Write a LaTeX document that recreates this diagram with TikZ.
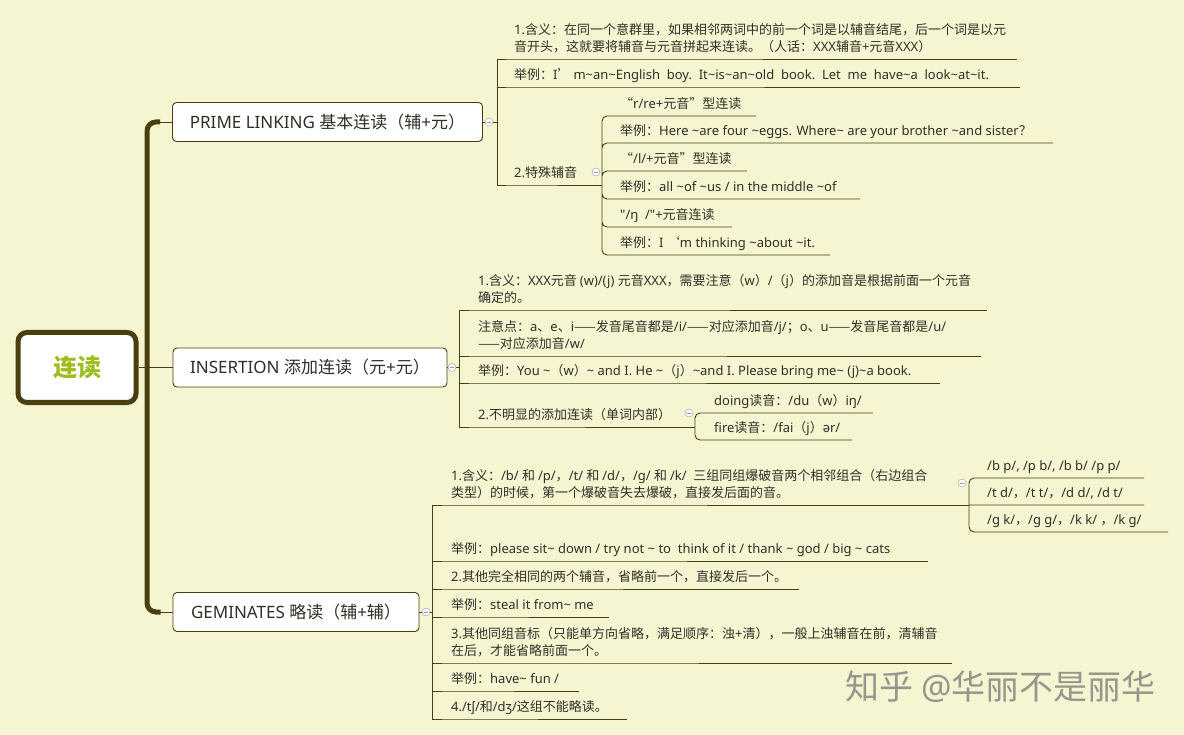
\documentclass[tikz,border=0pt]{standalone}
\usepackage{fontspec}
\setmainfont{Noto Sans}[Ligatures=TeXOff]
\newfontfamily\latinfont{Noto Sans}[Ligatures=TeXOff]
\newfontfamily\cjkfont{Noto Sans CJK SC}[Ligatures=TeXOff]
\usetikzlibrary{positioning}

% CJK characters switch to the CJK face, everything else stays in Noto Sans
\XeTeXinterchartokenstate=1
\newXeTeXintercharclass\cjkclass
\makeatletter
\count@="2E80
\loop
	\XeTeXcharclass\count@=\cjkclass
	\advance\count@ by 1
\ifnum\count@<"A000 \repeat
\count@="FF00
\loop
	\XeTeXcharclass\count@=\cjkclass
	\advance\count@ by 1
\ifnum\count@<"FFF0 \repeat
\makeatother
\XeTeXcharclass"2014=\cjkclass
\XeTeXcharclass"2018=\cjkclass
\XeTeXcharclass"2019=\cjkclass
\XeTeXcharclass"201C=\cjkclass
\XeTeXcharclass"201D=\cjkclass
\XeTeXinterchartoks 0 \cjkclass = {\cjkfont}
\XeTeXinterchartoks 4095 \cjkclass = {\cjkfont}
\XeTeXinterchartoks \cjkclass 0 = {\latinfont}
\XeTeXinterchartoks 4095 0 = {\latinfont}

\definecolor{paper}{RGB}{245,245,210}
\definecolor{wire}{RGB}{74,62,14}
\definecolor{ink}{RGB}{48,48,40}
\definecolor{rootgreen}{RGB}{157,190,28}
\definecolor{foldgray}{RGB}{150,150,168}
\definecolor{markgray}{RGB}{150,150,140}

\newcommand{\tld}{\textasciitilde}

\begin{document}
\begin{tikzpicture}[
	x=1pt, y=-1pt,
	root/.style={draw=wire, line width=5pt, rounded corners=9pt, fill=white,
		minimum width=118pt, minimum height=70pt, text=rootgreen,
		font=\fontsize{24}{28}\selectfont\bfseries},
	topic/.style={draw=wire, line width=0.9pt, rounded corners=4pt, fill=white,
		minimum height=39pt, text=ink, font=\fontsize{17}{20}\selectfont},
	leaf/.style={anchor=south west, inner xsep=0pt, inner ysep=4.5pt, text depth=3pt,
		align=left, text=ink, font=\fontsize{13}{17}\selectfont},
	trunk/.style={draw=wire, line width=5pt, rounded corners=9pt},
	wire1/.style={draw=wire, line width=0.9pt},
	wire2/.style={draw=wire, line width=0.9pt, rounded corners=5pt},
	fold/.style={circle, draw=foldgray, fill=white, inner sep=0pt, minimum size=8pt,
		path picture={\draw[foldgray, line width=0.8pt]
			([xshift=-2pt]path picture bounding box.center) -- ([xshift=2pt]path picture bounding box.center);}},
	stamp/.style={text=markgray, font=\fontsize{34}{38}\selectfont}
]
\fill[paper] (0,0) rectangle (1184,735);
\useasboundingbox (0,0) rectangle (1184,735);

\node[root] (root) at (77,367.5) {连读};
\node[topic, minimum width=310pt] (prime) at (327.5,122) {PRIME LINKING 基本连读（辅+元）};
\node[topic, minimum width=274pt] (ins) at (310,367.5) {INSERTION 添加连读（元+元）};
\node[topic, minimum width=246pt] (gem) at (296,612) {GEMINATES 略读（辅+辅）};

\coordinate[right=14pt of prime.east] (hP);
\coordinate[right=12pt of ins.east] (hI);
\coordinate[right=13pt of gem.east] (hG);
\coordinate (hub) at (147,367.5);

% PRIME LINKING
\node[leaf] (p1) at (514,59) {1.含义：在同一个意群里，如果相邻两词中的前一个词是以辅音结尾，后一个词是以元\\音开头，这就要将辅音与元音拼起来连读。（人话：XXX辅音+元音XXX）};
\node[leaf] (p2) at (514,87) {举例：I’ m\tld an\tld English\ \ boy.\ \ It\tld is\tld an\tld old\ \ book.\ \ Let\ \ me\ \ have\tld a\ \ look\tld at\tld it.};
\node[leaf] (p3) at (514,185) {2.特殊辅音};
\coordinate (hPs) at (602,185);
\node[leaf] (q1) at (620,116) {“r/re+元音”型连读};
\node[leaf] (q2) at (620,143) {举例：Here \tld are four \tld eggs. Where\tld{} are your brother \tld and sister？};
\node[leaf] (q3) at (620,171) {“/l/+元音”型连读};
\node[leaf] (q4) at (620,199) {举例：all \tld of \tld us / in the middle \tld of};
\node[leaf] (q5) at (620,227) {"/ŋ\ \ /"+元音连读};
\node[leaf] (q6) at (620,255) {举例：I ‘m thinking \tld about \tld it.};

% INSERTION
\node[leaf] (i1) at (478,310) {1.含义：XXX元音 (w)/(j) 元音XXX，需要注意（w）/（j）的添加音是根据前面一个元音\\确定的。};
\node[leaf] (i2) at (478,356) {注意点：a、e、i——发音尾音都是/i/——对应添加音/j/；o、u——发音尾音都是/u/\\——对应添加音/w/};
\node[leaf] (i3) at (478,383) {举例：You \tld（w）\tld{} and I. He \tld（j）\tld and I. Please bring me\tld{} (j)\tld a book.};
\node[leaf] (i4) at (478,427) {2.不明显的添加连读（单词内部）};
\coordinate (hId) at (695,427);
\node[leaf] (d1) at (714,413) {doing读音：/du（w）iŋ/};
\node[leaf] (d2) at (714,440) {fire读音：/fai（j）ər/};

% GEMINATES
\node[leaf] (g1) at (451,505) {1.含义：/b/ 和 /p/，/t/ 和 /d/，/g/ 和 /k/\ \ 三组同组爆破音两个相邻组合（右边组合\\类型）的时候，第一个爆破音失去爆破，直接发后面的音。};
\coordinate (hGb) at (969,505);
\node[leaf] (b1) at (987,478) {/b p/, /p b/, /b b/ /p p/};
\node[leaf] (b2) at (987,505) {/t d/，/t t/，/d d/, /d t/};
\node[leaf] (b3) at (987,532) {/g k/，/g g/，/k k/ ，/k g/};
\node[leaf] (g2) at (451,561) {举例：please sit\tld{} down / try not \tld{} to\ \ think of it / thank \tld{} god / big \tld{} cats};
\node[leaf] (g3) at (451,589) {2.其他完全相同的两个辅音，省略前一个，直接发后一个。};
\node[leaf] (g4) at (451,617) {举例：steal it from\tld{} me};
\node[leaf] (g5) at (451,663) {3.其他同组音标（只能单方向省略，满足顺序：浊+清），一般上浊辅音在前，清辅音\\在后，才能省略前面一个。};
\node[leaf] (g6) at (451,691) {举例：have\tld{} fun /};
\node[leaf] (g7) at (451,719) {4./tʃ/和/dʒ/这组不能略读。};

\draw[trunk] ([xshift=-12pt]prime.west) -| (hub) |- ([xshift=-12pt]gem.west);
\draw[wire1] (root) -- (ins)
	([xshift=-14pt]prime.west) -- (prime)
	([xshift=-14pt]gem.west) -- (gem)
	(prime) -- (hP) (ins) -- (hI) (gem) -- (hG);

\draw[wire1] (hP) |- (p1.south west) -- ++(503,0)
	(hP) |- (p2.south west) -- ++(506,0)
	(hP) |- (p3.south west) -- (hPs);
\draw[wire2] (hPs) |- (q1.south west) -- ++(136,0)
	(hPs) |- (q2.south west) -- ++(433,0)
	(hPs) |- (q3.south west) -- ++(127,0)
	(hPs) |- (q4.south west) -- ++(240,0)
	(hPs) |- (q5.south west) -- ++(112,0)
	(hPs) |- (q6.south west) -- ++(210,0);

\draw[wire1] (hI) |- (i1.south west) -- ++(509,0)
	(hI) |- (i2.south west) -- ++(503,0)
	(hI) |- (i3.south west) -- ++(462,0)
	(hI) |- (i4.south west) -- (hId);
\draw[wire2] (hId) |- (d1.south west) -- ++(159,0)
	(hId) |- (d2.south west) -- ++(138,0);

\draw[wire1] (hG) |- (g1.south west) -- (hGb)
	(hG) |- (g2.south west) -- ++(477,0)
	(hG) |- (g3.south west) -- ++(348,0)
	(hG) |- (g4.south west) -- ++(158,0)
	(hG) |- (g5.south west) -- ++(501,0)
	(hG) |- (g6.south west) -- ++(128,0)
	(hG) |- (g7.south west) -- ++(176,0);
\draw[wire2] (hGb) |- (b1.south west) -- ++(157,0)
	(hGb) -- (b2.south west) -- ++(157,0)
	(hGb) |- (b3.south west) -- ++(181,0);

\node[fold] (fP) at (489,122) {};
\node[fold] (fI) at (452,367.5) {};
\node[fold] (fG) at (426,612) {};
\node[fold] (fPs) at (596,172) {};
\node[fold] (fId) at (689,413) {};
\node[fold] (fGb) at (962,483) {};

\node[stamp, anchor=west] (wm) at (842,687) {知乎 @华丽不是丽华};
\end{tikzpicture}
\end{document}
